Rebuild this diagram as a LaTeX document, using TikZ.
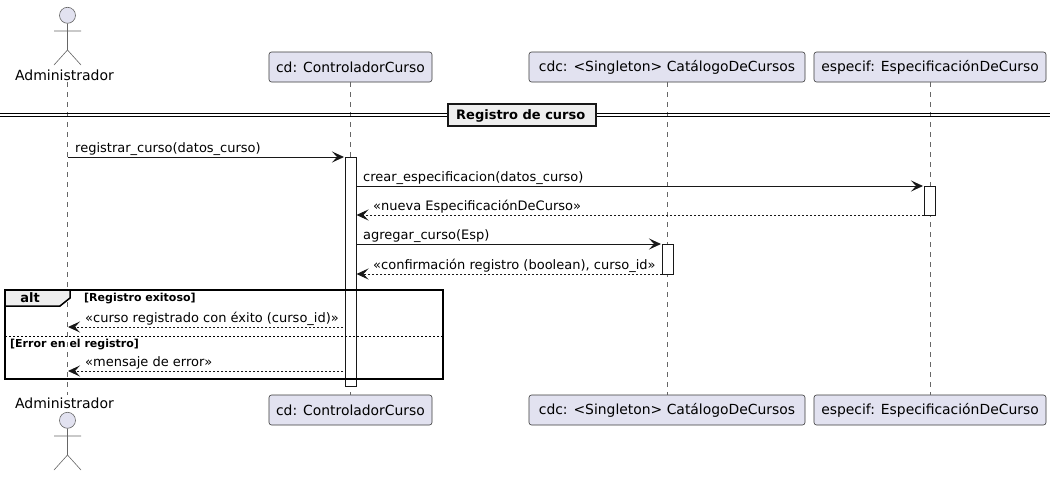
\documentclass[tikz,border=0pt]{standalone}
\usepackage{fontspec}
\setmainfont{DejaVu Sans}
\usetikzlibrary{arrows.meta,calc}
\definecolor{partfill}{HTML}{E2E2F0}
\definecolor{inkdark}{HTML}{181818}
\definecolor{tabfill}{HTML}{EEEEEE}
\definecolor{lifegray}{HTML}{666666}
\tikzset{
  x=1pt,y=-1pt,
  part/.style={draw=inkdark!85,line width=0.6pt,fill=partfill,rounded corners=2.5pt,minimum height=30pt,inner sep=0pt,anchor=center,font=\fontsize{13.9}{16}\selectfont},
  actorlabel/.style={inner sep=0pt,font=\fontsize{14}{16}\selectfont},
  stick/.style={draw=lifegray,line width=0.6pt},
  life/.style={draw=lifegray,line width=0.6pt,dash pattern=on 5pt off 5pt},
  activ/.style={draw=inkdark,line width=1pt,fill=white,minimum width=11pt,inner sep=0pt,outer sep=0pt,anchor=north},
  msg/.style={draw=inkdark,line width=1pt,shorten >=1pt,-{Stealth[length=12pt,width=11pt,inset=5pt]}},
  ret/.style={msg,line width=0.9pt,dash pattern=on 2pt off 2pt,shorten >=0.5pt},
  mlabel/.style={inner sep=0pt,anchor=base west,font=\fontsize{13}{15}\selectfont},
  guard/.style={inner sep=0pt,anchor=base west,font=\fontsize{11}{13}\selectfont\bfseries},
}
\begin{document}
\begin{tikzpicture}
\useasboundingbox (0,0) rectangle (1055,479);
\fill[white] (0,0) rectangle (1055,479);
% lifeline ends
\coordinate (at) at (67.5,82);
\coordinate (ab) at (67.5,395);
% participants
\node[part,minimum width=163pt] (cdT) at (350.5,67) {cd: ControladorCurso};
\node[part,minimum width=276pt] (cdcT) at (667,67) {cdc: <Singleton> CatálogoDeCursos};
\node[part,minimum width=232pt] (espT) at (930,67) {especif: EspecificaciónDeCurso};
\node[part,minimum width=163pt] (cdB) at (350.5,410) {cd: ControladorCurso};
\node[part,minimum width=276pt] (cdcB) at (667,410) {cdc: <Singleton> CatálogoDeCursos};
\node[part,minimum width=232pt] (espB) at (930,410) {especif: EspecificaciónDeCurso};
% lifelines
\draw[life] (at) -- (ab);
\draw[life] (cdT.south) -- (cdB.north);
\draw[life] (cdcT.south) -- (cdcB.north);
\draw[life] (espT.south) -- (espB.north);
% actors
\node[circle,draw=lifegray,line width=0.6pt,fill=partfill,minimum size=16pt,inner sep=0pt] (headT) at (67.5,15.3) {};
\draw[stick] (headT.south) -- (67.5,50) (54,31) -- (81,31) (54,65) -- (67.5,50) -- (81,65);
\node[actorlabel] (admT) at (64.5,75) {Administrador};
\node[circle,draw=lifegray,line width=0.6pt,fill=partfill,minimum size=16pt,inner sep=0pt] (headB) at (67.5,420.3) {};
\draw[stick] (headB.south) -- (67.5,455) (54,436) -- (81,436) (54,470) -- (67.5,455) -- (81,470);
\node[actorlabel] (admB) at (64.5,403) {Administrador};
% divider
\draw[draw=black,line width=1pt] (0,113) -- (1050,113) (0,116) -- (1050,116);
\node[draw=inkdark,line width=2pt,fill=tabfill,minimum width=148pt,minimum height=22.5pt,inner sep=0pt] (div) at (522,114.8) {};
\node[inner sep=0pt,anchor=base west,font=\fontsize{13}{15}\selectfont\bfseries] (divL) at (456,119) {Registro de curso};
% activations
\node[activ,minimum height=229pt] (actCd) at (350.5,157) {};
\node[activ,minimum height=29pt] (actEsp) at (929.5,186) {};
\node[activ,minimum height=30pt] (actCdc) at (667.5,244) {};
% frame
\draw[black,line width=1.5pt] (5,290) rectangle (443,379);
\draw[black,line width=1.5pt,fill=tabfill] (5,290) -- (70,290) -- (70,298) -- (60,306) -- (5,306) -- cycle;
\node[inner sep=0pt,font=\fontsize{13}{15}\selectfont\bfseries] (altL) at (30,298) {alt};
\node[guard] (g1) at (84,301) {[Registro exitoso]};
\draw[black,line width=1pt,dash pattern=on 2pt off 2pt] (5,336) -- (443,336);
\node[guard] (g2) at (10,347) {[Error en el registro]};
% messages
\coordinate (m1a) at (67.5,157);
\draw[msg] (m1a) -- (actCd.north west);
\node[mlabel] (l1) at (75,152) {registrar\_curso(datos\_curso)};
\draw[msg] (actCd.east |- actEsp.north) -- (actEsp.north west);
\node[mlabel] (l2) at (363,181) {crear\_especificacion(datos\_curso)};
\draw[ret] (actEsp.south west) -- (actCd.east |- actEsp.south);
\node[mlabel] (l3) at (373,210) {«nueva EspecificaciónDeCurso»};
\draw[msg] (actCd.east |- actCdc.north) -- (actCdc.north west);
\node[mlabel] (l4) at (363,239) {agregar\_curso(Esp)};
\draw[ret] (actCdc.south west) -- (actCd.east |- actCdc.south);
\node[mlabel] (l5) at (373,269) {«confirmación registro (boolean), curso\_id»};
\coordinate (m6a) at (67.5,327);
\coordinate (m7a) at (67.5,371);
\draw[ret,shorten <=2pt] (actCd.west |- m6a) -- (m6a);
\node[mlabel] (l6) at (85,322) {«curso registrado con éxito (curso\_id)»};
\draw[ret,shorten <=2pt] (actCd.west |- m7a) -- (m7a);
\node[mlabel] (l7) at (85,366) {«mensaje de error»};
\end{tikzpicture}
\end{document}
